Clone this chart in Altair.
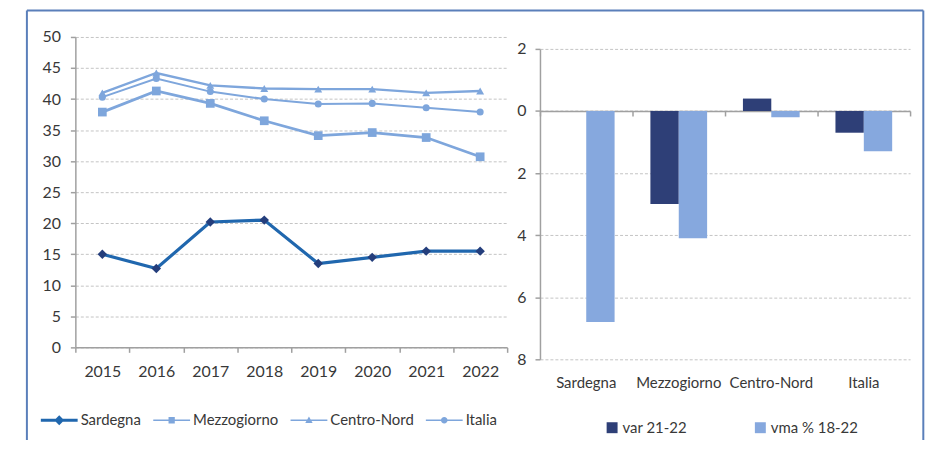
import altair as alt
import pandas as pd

# ---- data: left panel (line chart) ----
years = ["2015", "2016", "2017", "2018", "2019", "2020", "2021", "2022"]
sardegna = [15.0, 12.7, 20.2, 20.5, 13.5, 14.5, 15.5, 15.5]
mezzogiorno = [37.9, 41.3, 39.3, 36.5, 34.1, 34.6, 33.8, 30.7]
centro_nord = [41.0, 44.2, 42.2, 41.7, 41.6, 41.6, 41.0, 41.3]
italia = [40.3, 43.3, 41.2, 40.0, 39.2, 39.3, 38.6, 37.9]
series_names = ["Sardegna", "Mezzogiorno", "Centro-Nord", "Italia"]

# ---- data: right panel (bar chart) ----
areas = ["Sardegna", "Mezzogiorno", "Centro-Nord", "Italia"]
var_21_22 = [0.0, -3.0, 0.4, -0.7]
vma_18_22 = [-6.8, -4.1, -0.2, -1.3]
bar_series = ["var 21-22", "vma % 18-22"]

# ---- styles ----
line_colors = ["#2067AE", "#7EA6DC", "#7EA6DC", "#7EA6DC"]
marker_colors = ["#243E7C", "#7EA6DC", "#7EA6DC", "#7EA6DC"]
line_widths = [3.2, 2, 2, 2]
marker_shapes = ["diamond", "square", "triangle-up", "circle"]
marker_sizes = [90, 50, 60, 50]
legend_paths = [
    "M-1,-0.08H1V0.08H-1Z M0,-0.27L0.27,0L0,0.27L-0.27,0Z",
    "M-1,-0.04H1V0.04H-1Z M-0.17,-0.17H0.17V0.17H-0.17Z",
    "M-1,-0.04H1V0.04H-1Z M0,-0.2L0.2,0.15H-0.2Z",
    "M-1,-0.04H1V0.04H-1Z M-0.18,0A0.18,0.18 0 1,1 0.18,0A0.18,0.18 0 1,1 -0.18,0Z",
]
bar_colors = ["#2E3F77", "#86A8DE"]
frame_color = "#5A7FBA"
axis_grey = "#A0A0A0"
text_color = "#383838"

series_values = [sardegna, mezzogiorno, centro_nord, italia]
df_lines = pd.DataFrame(
    [
        {"anno": y, "valore": v, "serie": name}
        for name, vals in zip(series_names, series_values)
        for y, v in zip(years, vals)
    ]
)
df_bars = pd.DataFrame(
    [{"area": a, "serie": bar_series[0], "valore": v} for a, v in zip(areas, var_21_22)]
    + [{"area": a, "serie": bar_series[1], "valore": v} for a, v in zip(areas, vma_18_22)]
)
df_one = pd.DataFrame({"k": [0]})

# ---- left panel ----
LW, LH = 434, 312

x_years = alt.X(
    "anno:O",
    sort=years,
    title=None,
    scale=alt.Scale(type="band", paddingInner=0, paddingOuter=0),
    axis=alt.Axis(labelAngle=0, tickBand="extent", tickSize=5, labelPadding=11,
                  labelFontSize=16, orient="bottom", grid=False),
)
y_left = alt.Y(
    "valore:Q",
    title=None,
    scale=alt.Scale(domain=[0, 50], nice=False, zero=True),
    axis=alt.Axis(values=list(range(0, 51, 5)), grid=True, tickSize=5, labelPadding=10,
                  labelFontSize=16),
)

lines = alt.Chart(df_lines).mark_line().encode(
    x=x_years,
    y=y_left,
    color=alt.Color("serie:N", scale=alt.Scale(domain=series_names, range=line_colors), legend=None),
    strokeWidth=alt.StrokeWidth("serie:N", scale=alt.Scale(domain=series_names, range=line_widths), legend=None),
)
points = alt.Chart(df_lines).mark_point(filled=True, opacity=1).encode(
    x=x_years,
    y=y_left,
    color=alt.Color("serie:N", scale=alt.Scale(domain=series_names, range=marker_colors), legend=None),
    shape=alt.Shape("serie:N", scale=alt.Scale(domain=series_names, range=marker_shapes), legend=None),
    size=alt.Size("serie:N", scale=alt.Scale(domain=series_names, range=marker_sizes), legend=None),
)
leg_left = alt.Legend(
    title=None, orient="none", legendX=-34.7, legendY=366.5, direction="horizontal",
    symbolSize=1369, symbolOpacity=1, labelOffset=3, columnPadding=12,
    labelFontSize=15, labelColor=text_color, padding=0, symbolStrokeWidth=0,
)
legend_layer = alt.Chart(df_lines).mark_point(filled=True, opacity=0).encode(
    x=x_years,
    y=y_left,
    color=alt.Color("serie:N", scale=alt.Scale(domain=series_names, range=line_colors), legend=leg_left),
    shape=alt.Shape("serie:N", scale=alt.Scale(domain=series_names, range=legend_paths), legend=leg_left),
)

# outer frame (decoration)
frame_left = alt.Chart(df_one).mark_rule(color=frame_color, strokeWidth=2).encode(
    x=alt.value(-48.7), y=alt.value(-26.7), y2=alt.value(405)
)
frame_top = alt.Chart(df_one).mark_rule(color=frame_color, strokeWidth=2).encode(
    x=alt.value(-48.7), x2=alt.value(852.3), y=alt.value(-26.7)
)
frame_right = alt.Chart(df_one).mark_rule(color=frame_color, strokeWidth=2).encode(
    x=alt.value(852.3), y=alt.value(-26.7), y2=alt.value(405)
)

left = (
    alt.layer(frame_left, frame_top, frame_right, lines, points, legend_layer)
    .resolve_scale(color="independent", shape="independent")
    .properties(width=LW, height=LH)
)

# ---- right panel ----
RW, RH = 372, 324
y_bar = alt.Y(
    "valore:Q",
    title=None,
    scale=alt.Scale(domain=[-8, 2], range=[324, 12], nice=False, zero=False),
    axis=alt.Axis(values=[-8, -6, -4, -2, 0, 2], labelExpr="abs(datum.value)",
                  grid=True, tickSize=5, labelPadding=9, labelFontSize=16),
)
leg_right = alt.Legend(
    title=None, orient="none", legendX=532, legendY=385, direction="horizontal",
    symbolType="square", symbolSize=121, symbolOpacity=1, labelOffset=3, columnPadding=66,
    labelFontSize=15, labelColor=text_color, padding=0, symbolStrokeWidth=0,
)
bars = alt.Chart(df_bars).mark_bar().encode(
    x=alt.X(
        "area:N", sort=areas, title=None,
        scale=alt.Scale(paddingInner=0.387, paddingOuter=0.1935),
        axis=alt.Axis(labelAngle=0, domain=False, ticks=False, tickSize=0,
                      labelPadding=16, orient="bottom"),
    ),
    xOffset=alt.XOffset("serie:N", sort=bar_series, scale=alt.Scale(paddingInner=0, paddingOuter=0)),
    y=y_bar,
    color=alt.Color("serie:N", scale=alt.Scale(domain=bar_series, range=bar_colors), legend=leg_right),
)
zero_axis = alt.Chart(df_bars).mark_bar(opacity=0).encode(
    x=alt.X(
        "area:N", sort=areas, title=None,
        scale=alt.Scale(paddingInner=0, paddingOuter=0),
        axis=alt.Axis(labels=False, tickBand="extent", tickSize=5, offset=-249.6,
                      orient="bottom", domainColor=axis_grey, grid=False),
    ),
    y=y_bar,
)
right = (
    alt.layer(bars, zero_axis)
    .resolve_scale(x="independent")
    .resolve_axis(x="independent")
    .properties(width=RW, height=RH)
)

chart = (
    alt.hconcat(left, right, spacing=33, bounds="flush")
    .properties(padding={"left": 17.7, "top": 0, "right": 0, "bottom": 0})
    .configure(font="Lato")
    .configure_view(strokeWidth=0)
    .configure_axis(
        labelFont="Lato", labelFontSize=15, labelColor=text_color,
        domainColor=axis_grey, tickColor=axis_grey, domainWidth=1.5, tickWidth=1.5,
        gridColor="#C4C4C4", gridDash=[3, 2], gridWidth=1,
    )
    .configure_legend(labelFont="Lato")
)

chart.save("out.html", embed_options={"renderer": "svg", "actions": False})
